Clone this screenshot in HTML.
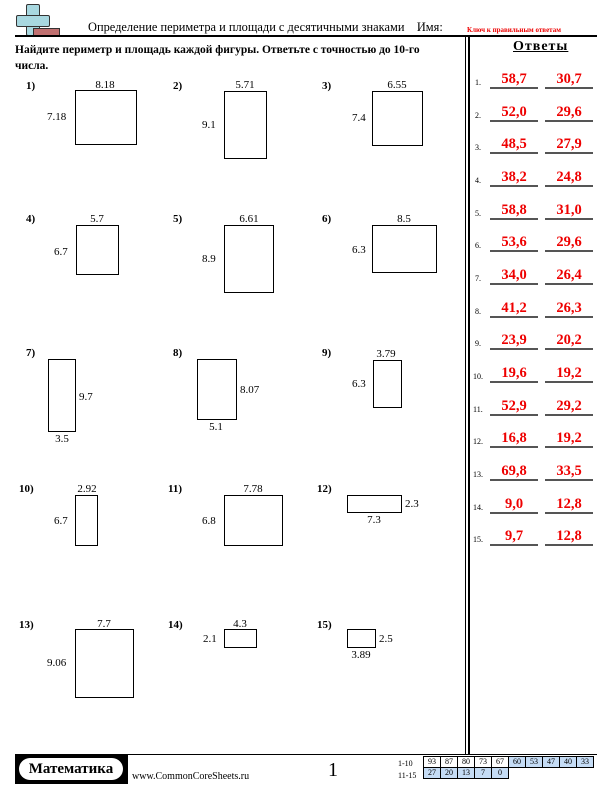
<!DOCTYPE html>
<html><head><meta charset="utf-8"><style>
body{margin:0;width:612px;height:792px;position:relative;background:#fff;font-family:"Liberation Serif","DejaVu Serif",serif;overflow:hidden}
div{position:absolute}
.r{border:1px solid #000;box-sizing:border-box}
.t{font-size:11px;line-height:11px;white-space:nowrap}
.c{transform:translateX(-50%)}
.n{font-size:11px;font-weight:bold}
.a{color:#e00;font-weight:bold;font-size:14.5px;width:48px;text-align:center;border-bottom:2px solid #555;line-height:16px}
.rn{font-size:8px}
.sc td{border:1px solid #000;font-size:8px;width:16px;height:10px;text-align:center;padding:0;line-height:10px}
</style></head><body>
<!-- header -->
<div style="left:26px;top:4px;width:12px;height:30px;background:#a8d8e0;border:1px solid #333;border-radius:2px"></div>
<div style="left:16px;top:15px;width:32px;height:10px;background:#a8d8e0;border:1px solid #333;border-radius:2px"></div>
<div style="left:27px;top:16px;width:10px;height:8px;background:#a8d8e0"></div>
<div style="left:33px;top:28px;width:25px;height:7px;background:#c07070;border:1px solid #333"></div>
<div class="t" style="left:88px;top:22px;font-size:12.4px">Определение периметра и площади с десятичными знаками&nbsp;&nbsp;&nbsp;&nbsp;Имя:</div>
<div class="t" style="left:467px;top:25px;font-size:7px;color:#e00;font-weight:bold">Ключ к правильным ответам</div>
<div style="left:15px;top:35px;width:582px;height:2px;background:#000"></div>
<div class="t" style="left:15px;top:42px;font-size:11.5px;font-weight:bold;line-height:16px;white-space:normal;width:440px">Найдите периметр и площадь каждой фигуры. Ответьте с точностью до 10-го числа.</div>
<div style="left:465px;top:37px;width:1px;height:718px;background:#000"></div>
<div style="left:468px;top:37px;width:2px;height:718px;background:#000"></div>
<div class="t" style="left:513px;top:41px;font-size:14px;font-weight:bold;text-decoration:underline;letter-spacing:1px">Ответы</div>

<!-- problems -->
<div class="t n" style="left:26px;top:81px">1)</div><div class="r" style="left:75px;top:90px;width:62px;height:55px"></div><div class="t c" style="left:105px;top:80px">8.18</div><div class="t" style="left:47px;top:112px">7.18</div>
<div class="t n" style="left:173px;top:81px">2)</div><div class="r" style="left:224px;top:91px;width:43px;height:68px"></div><div class="t c" style="left:245px;top:80px">5.71</div><div class="t" style="left:202px;top:120px">9.1</div>
<div class="t n" style="left:322px;top:81px">3)</div><div class="r" style="left:372px;top:91px;width:51px;height:55px"></div><div class="t c" style="left:397px;top:80px">6.55</div><div class="t" style="left:352px;top:113px">7.4</div>

<div class="t n" style="left:26px;top:214px">4)</div><div class="r" style="left:76px;top:225px;width:43px;height:50px"></div><div class="t c" style="left:97px;top:214px">5.7</div><div class="t" style="left:54px;top:247px">6.7</div>
<div class="t n" style="left:173px;top:214px">5)</div><div class="r" style="left:224px;top:225px;width:50px;height:68px"></div><div class="t c" style="left:249px;top:214px">6.61</div><div class="t" style="left:202px;top:254px">8.9</div>
<div class="t n" style="left:322px;top:214px">6)</div><div class="r" style="left:372px;top:225px;width:65px;height:48px"></div><div class="t c" style="left:404px;top:214px">8.5</div><div class="t" style="left:352px;top:245px">6.3</div>

<div class="t n" style="left:26px;top:348px">7)</div><div class="r" style="left:48px;top:359px;width:28px;height:73px"></div><div class="t" style="left:79px;top:392px">9.7</div><div class="t c" style="left:62px;top:434px">3.5</div>
<div class="t n" style="left:173px;top:348px">8)</div><div class="r" style="left:197px;top:359px;width:40px;height:61px"></div><div class="t" style="left:240px;top:385px">8.07</div><div class="t c" style="left:216px;top:422px">5.1</div>
<div class="t n" style="left:322px;top:348px">9)</div><div class="r" style="left:373px;top:360px;width:29px;height:48px"></div><div class="t c" style="left:386px;top:349px">3.79</div><div class="t" style="left:352px;top:379px">6.3</div>

<div class="t n" style="left:19px;top:484px">10)</div><div class="r" style="left:75px;top:495px;width:23px;height:51px"></div><div class="t c" style="left:87px;top:484px">2.92</div><div class="t" style="left:54px;top:516px">6.7</div>
<div class="t n" style="left:168px;top:484px">11)</div><div class="r" style="left:224px;top:495px;width:59px;height:51px"></div><div class="t c" style="left:253px;top:484px">7.78</div><div class="t" style="left:202px;top:516px">6.8</div>
<div class="t n" style="left:317px;top:484px">12)</div><div class="r" style="left:347px;top:495px;width:55px;height:18px"></div><div class="t" style="left:405px;top:499px">2.3</div><div class="t c" style="left:374px;top:515px">7.3</div>

<div class="t n" style="left:19px;top:620px">13)</div><div class="r" style="left:75px;top:629px;width:59px;height:69px"></div><div class="t c" style="left:104px;top:619px">7.7</div><div class="t" style="left:47px;top:658px">9.06</div>
<div class="t n" style="left:168px;top:620px">14)</div><div class="r" style="left:224px;top:629px;width:33px;height:19px"></div><div class="t c" style="left:240px;top:619px">4.3</div><div class="t" style="left:203px;top:634px">2.1</div>
<div class="t n" style="left:317px;top:620px">15)</div><div class="r" style="left:347px;top:629px;width:29px;height:19px"></div><div class="t" style="left:379px;top:634px">2.5</div><div class="t c" style="left:361px;top:650px">3.89</div>

<!-- answers -->
<div class="t rn" style="left:475px;top:77px">1.</div><div class="a" style="left:490px;top:71px">58,7</div><div class="a" style="left:545px;top:71px">30,7</div>
<div class="t rn" style="left:475px;top:110px">2.</div><div class="a" style="left:490px;top:104px">52,0</div><div class="a" style="left:545px;top:104px">29,6</div>
<div class="t rn" style="left:475px;top:142px">3.</div><div class="a" style="left:490px;top:136px">48,5</div><div class="a" style="left:545px;top:136px">27,9</div>
<div class="t rn" style="left:475px;top:175px">4.</div><div class="a" style="left:490px;top:169px">38,2</div><div class="a" style="left:545px;top:169px">24,8</div>
<div class="t rn" style="left:475px;top:208px">5.</div><div class="a" style="left:490px;top:202px">58,8</div><div class="a" style="left:545px;top:202px">31,0</div>
<div class="t rn" style="left:475px;top:240px">6.</div><div class="a" style="left:490px;top:234px">53,6</div><div class="a" style="left:545px;top:234px">29,6</div>
<div class="t rn" style="left:475px;top:273px">7.</div><div class="a" style="left:490px;top:267px">34,0</div><div class="a" style="left:545px;top:267px">26,4</div>
<div class="t rn" style="left:475px;top:306px">8.</div><div class="a" style="left:490px;top:300px">41,2</div><div class="a" style="left:545px;top:300px">26,3</div>
<div class="t rn" style="left:475px;top:338px">9.</div><div class="a" style="left:490px;top:332px">23,9</div><div class="a" style="left:545px;top:332px">20,2</div>
<div class="t rn" style="left:473px;top:371px">10.</div><div class="a" style="left:490px;top:365px">19,6</div><div class="a" style="left:545px;top:365px">19,2</div>
<div class="t rn" style="left:473px;top:404px">11.</div><div class="a" style="left:490px;top:398px">52,9</div><div class="a" style="left:545px;top:398px">29,2</div>
<div class="t rn" style="left:473px;top:436px">12.</div><div class="a" style="left:490px;top:430px">16,8</div><div class="a" style="left:545px;top:430px">19,2</div>
<div class="t rn" style="left:473px;top:469px">13.</div><div class="a" style="left:490px;top:463px">69,8</div><div class="a" style="left:545px;top:463px">33,5</div>
<div class="t rn" style="left:473px;top:502px">14.</div><div class="a" style="left:490px;top:496px">9,0</div><div class="a" style="left:545px;top:496px">12,8</div>
<div class="t rn" style="left:473px;top:534px">15.</div><div class="a" style="left:490px;top:528px">9,7</div><div class="a" style="left:545px;top:528px">12,8</div>

<!-- footer -->
<div style="left:15px;top:754px;width:582px;height:1px;background:#000"></div>
<div style="left:15px;top:755px;width:113px;height:29px;background:#000"></div>
<div style="left:19px;top:758px;width:104px;height:22px;background:#fff;border-radius:12px;font-weight:bold;font-size:15px;text-align:center;line-height:22px">Математика</div>
<div class="t" style="left:132px;top:771px;font-size:10px">www.CommonCoreSheets.ru</div>
<div class="t" style="left:328px;top:760px;font-size:20px;line-height:20px">1</div>
<div class="t" style="left:398px;top:758px;font-size:8px">1-10</div>
<div class="t" style="left:398px;top:770px;font-size:8px">11-15</div>
<table class="sc" style="position:absolute;left:423px;top:756px;border-collapse:collapse">
<tr><td>93</td><td>87</td><td>80</td><td>73</td><td>67</td><td style="background:#c5dcf5">60</td><td style="background:#c5dcf5">53</td><td style="background:#c5dcf5">47</td><td style="background:#c5dcf5">40</td><td style="background:#c5dcf5">33</td></tr>
<tr><td style="background:#c5dcf5">27</td><td style="background:#c5dcf5">20</td><td style="background:#c5dcf5">13</td><td style="background:#c5dcf5">7</td><td style="background:#c5dcf5">0</td><td style="border:none"></td><td style="border:none"></td><td style="border:none"></td><td style="border:none"></td><td style="border:none"></td></tr>
</table>
</body></html>
